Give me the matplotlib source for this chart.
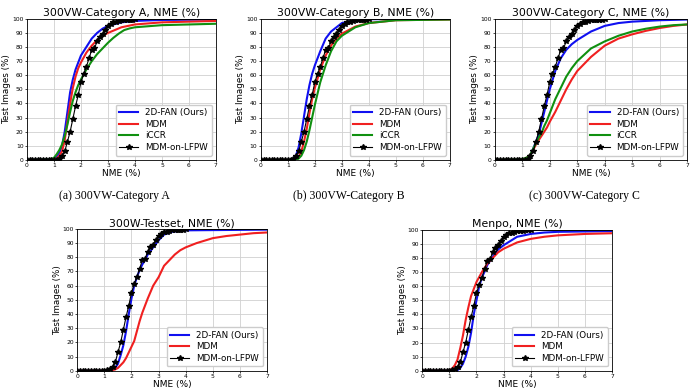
#!/usr/bin/env python3

import numpy as np
import matplotlib
matplotlib.use('Agg')
import matplotlib.pyplot as plt

# MDM-on-LFPW is the same reference curve in every panel (NME thresholds every 0.1)
lfpw_x = np.round(np.arange(0, 4.01, 0.1), 1)
lfpw_y = [0, 0, 0, 0, 0, 0, 0, 0, 0, 0, 0, 0.3,
          1, 3, 6, 13, 20, 29, 38, 46, 55, 61, 66, 72, 78, 79,
          84, 87, 89, 92, 95, 96.5, 97.5, 98, 98.5, 99, 99, 99.3, 99.5, 99.5, 99.6]
lfpw_end = 99.8

# 300VW-Category A
a_fan_x = [0, 1.0, 1.1, 1.2, 1.3, 1.4, 1.5, 1.6, 1.7, 1.8, 1.9, 2.0, 2.2, 2.4, 2.6, 2.8, 3.0, 3.5, 4, 5, 7]
a_fan_y = [0, 0.5, 2, 5, 10, 20, 34, 48, 57, 64, 69, 74, 80, 86, 90, 93, 95, 97.5, 98.5, 99.2, 99.5]
a_mdm_x = [0, 1.0, 1.1, 1.2, 1.3, 1.4, 1.5, 1.6, 1.7, 1.8, 1.9, 2.0, 2.2, 2.4, 2.6, 2.8, 3.0, 3.5, 4, 5, 6, 7]
a_mdm_y = [0, 0, 1, 3, 6, 14, 27, 40, 51, 59, 65, 69, 76, 81, 85, 88, 90, 94, 96, 97.5, 98, 98.5]
a_iccr_x = [0, 0.9, 1.0, 1.1, 1.2, 1.3, 1.4, 1.5, 1.6, 1.7, 1.8, 1.9, 2.0, 2.2, 2.4, 2.6, 2.8, 3.0, 3.2, 3.4, 3.6, 3.8, 4.0, 5, 6, 7]
a_iccr_y = [0, 0.5, 1.5, 4, 7, 11, 17, 25, 34, 42, 48, 53, 57, 64, 70, 75, 79, 83, 86.5, 89.5, 92, 93.2, 94, 95.5, 96, 96.5]

# 300VW-Category B
b_fan_x = [0, 1.1, 1.2, 1.3, 1.4, 1.5, 1.6, 1.7, 1.8, 1.9, 2.0, 2.2, 2.4, 2.6, 2.8, 3.0, 3.5, 4, 7]
b_fan_y = [0, 0, 1, 3, 9, 19, 31, 43, 53, 61, 67, 77, 86, 91, 94, 97, 99, 99.7, 100]
b_mdm_x = [0, 1.2, 1.3, 1.4, 1.5, 1.6, 1.7, 1.8, 1.9, 2.0, 2.2, 2.4, 2.6, 2.8, 3.0, 3.5, 4, 5, 7]
b_mdm_y = [0, 0, 0.5, 2, 6, 13, 22, 33, 43, 51, 64, 74, 81, 86, 89.5, 94.5, 97, 99, 99.5]
b_iccr_x = [0, 1.3, 1.4, 1.5, 1.6, 1.7, 1.8, 1.9, 2.0, 2.2, 2.4, 2.6, 2.8, 3.0, 3.5, 4, 5, 7]
b_iccr_y = [0, 0, 1, 3, 7, 13, 21, 30, 39, 55, 67, 77, 84, 88, 94, 97, 99, 99.5]

# 300VW-Category C
c_fan_x = [0, 1.0, 1.1, 1.2, 1.3, 1.4, 1.5, 1.6, 1.7, 1.8, 1.9, 2.0, 2.2, 2.4, 2.6, 2.8, 3.0, 3.5, 4.0, 4.5, 5, 6, 7]
c_fan_y = [0, 0, 0.5, 2, 4, 8, 13, 18, 26, 34, 42, 50, 63, 72, 78, 82, 85, 91, 95, 97, 98, 99, 99.5]
c_mdm_x = [0, 1.0, 1.2, 1.3, 1.4, 1.5, 1.6, 1.7, 1.8, 1.9, 2.0, 2.2, 2.4, 2.6, 2.8, 3.0, 3.5, 4.0, 4.5, 5.0, 5.5, 6.0, 6.5, 7]
c_mdm_y = [0, 0, 2, 4, 7, 11, 14, 17, 20, 23, 27, 34, 42, 50, 57, 63, 73, 81, 86, 89, 91.5, 93.5, 95, 96]
c_iccr_x = [0, 1.0, 1.2, 1.3, 1.4, 1.5, 1.6, 1.7, 1.8, 1.9, 2.0, 2.2, 2.4, 2.6, 2.8, 3.0, 3.5, 4.0, 4.5, 5.0, 5.5, 6.0, 6.5, 7]
c_iccr_y = [0, 0.5, 2, 4, 8, 12, 16, 19, 24, 28, 33, 43, 51, 59, 65, 70, 79, 84, 88, 91, 93, 94.5, 95.5, 96]

# 300W-Testset
t_fan_x = [0, 1.2, 1.3, 1.4, 1.5, 1.6, 1.7, 1.8, 1.9, 2.0, 2.1, 2.2, 2.3, 2.4, 2.5, 2.6, 2.8, 3.0, 3.2, 3.5, 4.0, 7]
t_fan_y = [0, 0, 0.5, 2, 5, 11, 18, 28, 40, 51, 60, 66, 71, 75, 78, 82, 87, 92, 96, 98, 99, 99.5]
t_mdm_x = [0, 1.2, 1.3, 1.4, 1.5, 1.6, 1.7, 1.8, 1.9, 2.0, 2.1, 2.2, 2.3, 2.4, 2.5, 2.6, 2.8, 3.0, 3.2, 3.4, 3.6, 3.8, 4.0, 4.4, 5.0, 5.5, 6.0, 6.5, 7]
t_mdm_y = [0, 0, 0.5, 1, 2, 4, 6, 9, 13, 17, 21, 28, 35, 41, 46, 51, 60, 66, 74, 78, 82, 85, 87, 90, 93.5, 95, 96, 97, 97.5]

# Menpo
m_fan_x = [0, 1.2, 1.3, 1.4, 1.5, 1.6, 1.7, 1.8, 1.9, 2.0, 2.1, 2.2, 2.4, 2.6, 2.8, 3.0, 3.5, 4.0, 4.5, 5, 7]
m_fan_y = [0, 0, 0.5, 2, 5, 10, 17, 27, 40, 50, 60, 66, 75, 81, 86, 89, 95, 97, 98, 98.5, 99]
m_mdm_x = [0, 0.9, 1.0, 1.1, 1.2, 1.3, 1.4, 1.5, 1.6, 1.7, 1.8, 1.9, 2.0, 2.2, 2.4, 2.6, 2.8, 3.0, 3.5, 4.0, 4.5, 5, 6, 7]
m_mdm_y = [0, 0, 0.5, 1.5, 4, 8, 16, 25, 36, 45, 53, 58, 63, 70, 76, 80, 84, 86.5, 91, 93.5, 95, 96, 97, 97.5]

panels = [
    dict(title='300VW-Category A, NME (%)', rect=[0.039, 0.592, 0.274, 0.360],
         caption='(a) 300VW-Category A', curves=[(a_fan_x, a_fan_y), (a_mdm_x, a_mdm_y), (a_iccr_x, a_iccr_y)]),
    dict(title='300VW-Category B, NME (%)', rect=[0.378, 0.592, 0.274, 0.360],
         caption='(b) 300VW-Category B', curves=[(b_fan_x, b_fan_y), (b_mdm_x, b_mdm_y), (b_iccr_x, b_iccr_y)]),
    dict(title='300VW-Category C, NME (%)', rect=[0.717, 0.592, 0.279, 0.360],
         caption='(c) 300VW-Category C', curves=[(c_fan_x, c_fan_y), (c_mdm_x, c_mdm_y), (c_iccr_x, c_iccr_y)]),
    dict(title='300W-Testset, NME (%)', rect=[0.112, 0.054, 0.275, 0.362],
         caption=None, curves=[(t_fan_x, t_fan_y), (t_mdm_x, t_mdm_y)]),
    dict(title='Menpo, NME (%)', rect=[0.612, 0.054, 0.275, 0.360],
         caption=None, curves=[(m_fan_x, m_fan_y), (m_mdm_x, m_mdm_y)]),
]

names = ['2D-FAN (Ours)', 'MDM', 'iCCR']
colors = ['#1010f0', '#f02020', '#109010']

fig = plt.figure(figsize=(6.9, 3.92), dpi=100)

for p in panels:
    ax = fig.add_axes(p['rect'])
    for (xs, ys), name, col in zip(p['curves'], names, colors):
        ax.plot(xs, ys, color=col, lw=1.5, label=name)
    ax.plot(list(lfpw_x) + [7], lfpw_y + [lfpw_end], color='black', lw=0.8,
            marker='*', markersize=4, markevery=list(range(len(lfpw_x))), label='MDM-on-LFPW')
    ax.set_xlim(0, 7)
    ax.set_ylim(0, 100)
    ax.set_xticks(range(8))
    ax.set_yticks(range(0, 101, 10))
    ax.tick_params(labelsize=4.3, length=1.5, width=0.5, pad=1)
    ax.grid(True, color='#d0d0d0', lw=0.6)
    ax.set_axisbelow(True)
    for s in ax.spines.values():
        s.set_linewidth(0.6)
    ax.set_title(p['title'], fontsize=7.8, pad=2)
    ax.set_xlabel('NME (%)', fontsize=6.5, labelpad=0.5)
    ax.set_ylabel('Test Images (%)', fontsize=6.3, labelpad=0.5)
    ax.legend(loc='lower right', fontsize=6.3, handlelength=2.2, borderpad=0.4,
              labelspacing=0.3, framealpha=1, edgecolor='#cccccc')
    if p['caption']:
        r = p['rect']
        fig.text(r[0] + r[2] / 2 - 0.01, 0.5, p['caption'], ha='center', va='center',
                 fontsize=8.5, family='Liberation Serif')

plt.savefig('out.png', dpi=100)
